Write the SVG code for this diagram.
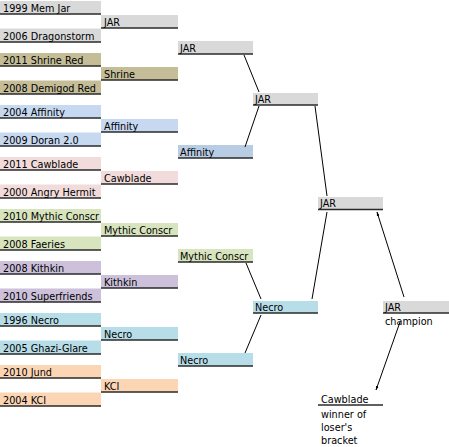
<svg xmlns="http://www.w3.org/2000/svg" width="449" height="447" viewBox="0 0 449 447">
<defs>
<marker id="ah" viewBox="0 0 10 10" refX="9" refY="5" markerWidth="4.5" markerHeight="4.5" orient="auto-start-reverse" markerUnits="userSpaceOnUse">
<path d="M0,2 L10,5 L0,8 z" fill="#000"/>
</marker>
</defs>
<style>
text{font-family:"DejaVu Sans","Liberation Sans",sans-serif;font-size:9.7px;fill:#000}
.u{stroke:#2a2a2a;stroke-width:1.7}
.gray{fill:#d9d9d9}
.tan{fill:#c4bd97}
.blue{fill:#c6d9f1}
.blue2{fill:#b8cce4}
.pink{fill:#f2dcdb}
.green{fill:#d7e4bd}
.lav{fill:#ccc0da}
.cyan{fill:#b7dee8}
.peach{fill:#fcd5b5}
.c{stroke:#000;stroke-width:1;fill:none}
</style>
<rect width="449" height="447" fill="#fff"/>

<g id="r1-1999"><rect class="gray" x="0" y="1" width="101" height="13"/><line class="u" x1="0" y1="14" x2="101" y2="14"/><text x="3" y="11.5">1999 Mem Jar</text></g>
<g id="r1w-jar"><rect class="gray" x="101" y="15" width="77" height="13"/><line class="u" x1="101" y1="28" x2="178" y2="28"/><text x="104" y="25.5">JAR</text></g>
<g id="r1-2006"><rect class="gray" x="0" y="28.5" width="101" height="13.5"/><line class="u" x1="0" y1="42" x2="101" y2="42"/><text x="3" y="39.5">2006 Dragonstorm</text></g>

<g id="r1-2011shrine"><rect class="tan" x="0" y="53" width="101" height="13"/><line class="u" x1="0" y1="66" x2="101" y2="66"/><text x="3" y="63.5">2011 Shrine Red</text></g>
<g id="r1w-shrine"><rect class="tan" x="101" y="67" width="77" height="13"/><line class="u" x1="101" y1="80" x2="178" y2="80"/><text x="104" y="77.5">Shrine</text></g>
<g id="r1-2008demigod"><rect class="tan" x="0" y="80.5" width="101" height="13.5"/><line class="u" x1="0" y1="94" x2="101" y2="94"/><text x="3" y="91.5">2008 Demigod Red</text></g>

<g id="r1-2004affinity"><rect class="blue" x="0" y="105" width="101" height="13"/><line class="u" x1="0" y1="118" x2="101" y2="118"/><text x="3" y="115.5">2004 Affinity</text></g>
<g id="r1w-affinity"><rect class="blue" x="101" y="119" width="77" height="13"/><line class="u" x1="101" y1="132" x2="178" y2="132"/><text x="104" y="129.5">Affinity</text></g>
<g id="r1-2009doran"><rect class="blue" x="0" y="132.5" width="101" height="13.5"/><line class="u" x1="0" y1="146" x2="101" y2="146"/><text x="3" y="143.5">2009 Doran 2.0</text></g>

<g id="r1-2011cawblade"><rect class="pink" x="0" y="157" width="101" height="13"/><line class="u" x1="0" y1="170" x2="101" y2="170"/><text x="3" y="167.5">2011 Cawblade</text></g>
<g id="r1w-cawblade"><rect class="pink" x="101" y="171" width="77" height="13"/><line class="u" x1="101" y1="184" x2="178" y2="184"/><text x="104" y="181.5">Cawblade</text></g>
<g id="r1-2000hermit"><rect class="pink" x="0" y="184.5" width="101" height="13.5"/><line class="u" x1="0" y1="198" x2="101" y2="198"/><text x="3" y="195.5">2000 Angry Hermit</text></g>

<g id="r1-2010mythic"><rect class="green" x="0" y="209" width="101" height="13"/><line class="u" x1="0" y1="222" x2="101" y2="222"/><text x="3" y="219.5">2010 Mythic Conscr</text></g>
<g id="r1w-mythic"><rect class="green" x="101" y="223" width="77" height="13"/><line class="u" x1="101" y1="236" x2="178" y2="236"/><text x="104" y="233.5">Mythic Conscr</text></g>
<g id="r1-2008faeries"><rect class="green" x="0" y="236.5" width="101" height="13.5"/><line class="u" x1="0" y1="250" x2="101" y2="250"/><text x="3" y="247.5">2008 Faeries</text></g>

<g id="r1-2008kithkin"><rect class="lav" x="0" y="261" width="101" height="13"/><line class="u" x1="0" y1="274" x2="101" y2="274"/><text x="3" y="271.5">2008 Kithkin</text></g>
<g id="r1w-kithkin"><rect class="lav" x="101" y="275" width="77" height="13"/><line class="u" x1="101" y1="288" x2="178" y2="288"/><text x="104" y="285.5">Kithkin</text></g>
<g id="r1-2010superfriends"><rect class="lav" x="0" y="288.5" width="101" height="13.5"/><line class="u" x1="0" y1="302" x2="101" y2="302"/><text x="3" y="299.5">2010 Superfriends</text></g>

<g id="r1-1996necro"><rect class="cyan" x="0" y="313" width="101" height="13"/><line class="u" x1="0" y1="326" x2="101" y2="326"/><text x="3" y="323.5">1996 Necro</text></g>
<g id="r1w-necro"><rect class="cyan" x="101" y="327" width="77" height="13"/><line class="u" x1="101" y1="340" x2="178" y2="340"/><text x="104" y="337.5">Necro</text></g>
<g id="r1-2005ghazi"><rect class="cyan" x="0" y="340.5" width="101" height="13.5"/><line class="u" x1="0" y1="354" x2="101" y2="354"/><text x="3" y="351.5">2005 Ghazi-Glare</text></g>

<g id="r1-2010jund"><rect class="peach" x="0" y="365" width="101" height="13"/><line class="u" x1="0" y1="378" x2="101" y2="378"/><text x="3" y="375.5">2010 Jund</text></g>
<g id="r1w-kci"><rect class="peach" x="101" y="379" width="77" height="13"/><line class="u" x1="101" y1="392" x2="178" y2="392"/><text x="104" y="389.5">KCI</text></g>
<g id="r1-2004kci"><rect class="peach" x="0" y="392.5" width="101" height="13.5"/><line class="u" x1="0" y1="406" x2="101" y2="406"/><text x="3" y="403.5">2004 KCI</text></g>

<g id="r2-jar"><rect class="gray" x="178" y="41" width="75" height="13"/><line class="u" x1="178" y1="54" x2="253" y2="54"/><text x="180" y="51.5">JAR</text></g>
<g id="r2-affinity"><rect class="blue2" x="178" y="145" width="75" height="13"/><line class="u" x1="178" y1="158" x2="253" y2="158"/><text x="180" y="155.5">Affinity</text></g>
<g id="r2-mythic"><rect class="green" x="178" y="249" width="75" height="13"/><line class="u" x1="178" y1="262" x2="253" y2="262"/><text x="180" y="259.5">Mythic Conscr</text></g>
<g id="r2-necro"><rect class="cyan" x="178" y="353" width="75" height="13"/><line class="u" x1="178" y1="366" x2="253" y2="366"/><text x="180" y="363.5">Necro</text></g>

<g id="r3-jar"><rect class="gray" x="253" y="93" width="65" height="12"/><line class="u" x1="253" y1="105" x2="318" y2="105"/><text x="255" y="102.5">JAR</text></g>
<g id="r3-necro"><rect class="cyan" x="253" y="301" width="65" height="12"/><line class="u" x1="253" y1="313" x2="318" y2="313"/><text x="255" y="310.5">Necro</text></g>

<g id="r4-jar"><rect class="gray" x="318" y="197" width="65" height="12.5"/><line class="u" x1="318" y1="209.5" x2="383" y2="209.5"/><text x="320" y="207">JAR</text></g>

<g id="final-jar"><rect class="gray" x="383" y="301" width="66" height="12"/><line class="u" x1="383" y1="313" x2="449" y2="313"/><text x="385" y="310.5">JAR</text><text x="385" y="325">champion</text></g>

<g id="loser-cawblade"><line class="u" x1="318" y1="405" x2="383" y2="405"/><text x="321" y="402.5">Cawblade</text><text x="321" y="418">winner of</text><text x="321" y="431">loser's</text><text x="321" y="444">bracket</text></g>

<g id="connectors">
<line class="c" x1="244" y1="55" x2="259" y2="92"/>
<line class="c" x1="245" y1="147" x2="259" y2="106"/>
<line class="c" x1="246" y1="263" x2="261" y2="299"/>
<line class="c" x1="245" y1="353" x2="261" y2="315"/>
<line class="c" x1="315" y1="106" x2="327" y2="196"/>
<line class="c" x1="312" y1="299" x2="327" y2="212"/>
<line class="c" x1="404" y1="297" x2="377" y2="212" marker-end="url(#ah)"/>
<line class="c" x1="400" y1="322" x2="376" y2="390" marker-end="url(#ah)"/>
</g>
</svg>
